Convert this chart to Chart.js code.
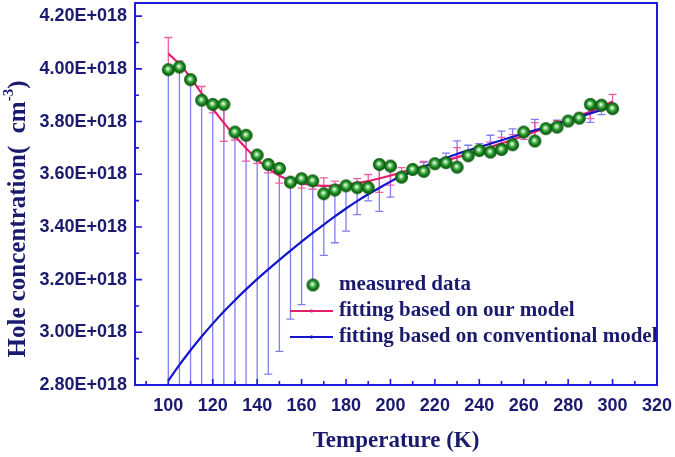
<!DOCTYPE html>
<html>
<head>
<meta charset="utf-8">
<script src="https://cdn.jsdelivr.net/npm/chart.js@4.4.1/dist/chart.umd.min.js"></script>
<style>
  html, body { margin: 0; padding: 0; background: #fff; }
  #holeChart { display: block; }
</style>
</head>
<body>
<canvas id="holeChart" width="675" height="457"></canvas>
<script>
// temperature (K)
const temps = [100, 105, 110, 115, 120, 125, 130, 135, 140, 145, 150, 155, 160, 165, 170, 175, 180, 185, 190, 195,
  200, 205, 210, 215, 220, 225, 230, 235, 240, 245, 250, 255, 260, 265, 270, 275, 280, 285, 290, 295, 300];

// hole concentration, in units of 1E+018 cm^-3
const measured = [3.997, 4.007, 3.959, 3.881, 3.865, 3.865, 3.760, 3.748, 3.673, 3.637, 3.622, 3.570, 3.583, 3.575,
  3.526, 3.540, 3.556, 3.549, 3.549, 3.637, 3.631, 3.589, 3.618, 3.611, 3.640, 3.644, 3.627, 3.670, 3.690, 3.684,
  3.694, 3.712, 3.760, 3.726, 3.773, 3.779, 3.802, 3.813, 3.865, 3.862, 3.849];

const fitOurModel = [4.058, 4.018, 3.967, 3.907, 3.849, 3.795, 3.745, 3.699, 3.657, 3.621, 3.594, 3.576, 3.565, 3.559,
  3.556, 3.557, 3.560, 3.566, 3.574, 3.584, 3.595, 3.607, 3.619, 3.630, 3.641, 3.652, 3.664, 3.677, 3.690, 3.703,
  3.717, 3.731, 3.746, 3.761, 3.776, 3.791, 3.806, 3.822, 3.838, 3.857, 3.876];

const fitConventional = [2.816, 2.876, 2.932, 2.984, 3.033, 3.079, 3.122, 3.163, 3.202, 3.239, 3.275, 3.310, 3.344,
  3.377, 3.409, 3.440, 3.470, 3.498, 3.524, 3.548, 3.572, 3.593, 3.611, 3.628, 3.646, 3.662, 3.677, 3.690, 3.703,
  3.716, 3.729, 3.742, 3.755, 3.767, 3.779, 3.792, 3.805, 3.818, 3.831, 3.844, 3.857];

const xTicks = [100, 120, 140, 160, 180, 200, 220, 240, 260, 280, 300, 320];
const yTicks = [2.8, 3.0, 3.2, 3.4, 3.6, 3.8, 4.0, 4.2];

const seriesNames = ['measured data', 'fitting based on our model', 'fitting based on conventional model'];

const AXIS_BLUE = '#1c1cdc';
const NAVY = '#1b1b6e';
const PINK = '#e3206c';
const BLUE = '#1414cc';

// green ball marker
function makeBall(r) {
  const s = r * 2 + 2;
  const c = document.createElement('canvas');
  c.width = s; c.height = s;
  const g = c.getContext('2d');
  const cx = s / 2, cy = s / 2;
  const grad = g.createRadialGradient(cx - r * 0.1, cy - r * 0.15, r * 0.05, cx, cy, r);
  grad.addColorStop(0, '#ffffff');
  grad.addColorStop(0.25, '#7fcf7f');
  grad.addColorStop(0.55, '#1f8f24');
  grad.addColorStop(1, '#064a0a');
  g.fillStyle = grad;
  g.beginPath();
  g.arc(cx, cy, r, 0, Math.PI * 2);
  g.fill();
  return c;
}
const ball = makeBall(6.5);

const pts = (arr) => temps.map((t, i) => ({ x: t, y: arr[i] }));

function drawErrorBars(ctx, xs, ys, fit, color) {
  ctx.strokeStyle = color;
  ctx.lineWidth = 1.3;
  temps.forEach((t, i) => {
    const d = Math.abs(measured[i] - fit[i]);
    const px = xs.getPixelForValue(t);
    const y1 = ys.getPixelForValue(fit[i] - d);
    const y2 = ys.getPixelForValue(fit[i] + d);
    ctx.beginPath();
    ctx.moveTo(px, y1); ctx.lineTo(px, y2);
    ctx.moveTo(px - 4, y1); ctx.lineTo(px + 4, y1);
    ctx.moveTo(px - 4, y2); ctx.lineTo(px + 4, y2);
    ctx.stroke();
  });
}

const extras = {
  id: 'extras',
  beforeDatasetsDraw(chart) {
    const { ctx, chartArea: a, scales } = chart;
    ctx.save();
    ctx.beginPath();
    ctx.rect(a.left, a.top, a.right - a.left, a.bottom - a.top);
    ctx.clip();
    drawErrorBars(ctx, scales.x, scales.y, fitConventional, 'rgba(105,105,235,0.85)');
    drawErrorBars(ctx, scales.x, scales.y, fitOurModel, 'rgba(238,85,160,0.95)');
    ctx.restore();
  },
  afterDraw(chart) {
    const { ctx, chartArea: a, scales } = chart;
    ctx.save();
    // frame
    ctx.strokeStyle = AXIS_BLUE;
    ctx.lineWidth = 2;
    ctx.strokeRect(a.left, a.top, a.right - a.left, a.bottom - a.top);
    // inward ticks
    ctx.lineWidth = 1.6;
    ctx.beginPath();
    for (let v = 90; v <= 320; v += 10) {
      const px = scales.x.getPixelForValue(v);
      const len = v % 20 === 0 ? 6 : 4;
      ctx.moveTo(px, a.bottom); ctx.lineTo(px, a.bottom - len);
    }
    for (let k = 28; k <= 42; k++) {
      const py = scales.y.getPixelForValue(k / 10);
      const len = k % 2 === 0 ? 7 : 4;
      ctx.moveTo(a.left, py); ctx.lineTo(a.left + len, py);
    }
    ctx.stroke();

    // axis titles
    ctx.fillStyle = NAVY;
    ctx.textBaseline = 'middle';
    ctx.textAlign = 'center';
    ctx.font = 'bold 23px "Liberation Serif", "Times New Roman", serif';
    ctx.fillText('Temperature (K)', (a.left + a.right) / 2, 441);

    ctx.translate(19, 219);
    ctx.rotate(-Math.PI / 2);
    const main = 'Hole concentration(  cm';
    const big = 'bold 25px "Liberation Serif", "Times New Roman", serif';
    const small = 'bold 15px "Liberation Serif", "Times New Roman", serif';
    ctx.font = big; const w1 = ctx.measureText(main).width; const w3 = ctx.measureText(')').width;
    ctx.font = small; const w2 = ctx.measureText('-3').width;
    let x0 = -(w1 + w2 + w3) / 2;
    ctx.textAlign = 'left';
    ctx.font = big; ctx.fillText(main, x0, 0);
    ctx.font = small; ctx.fillText('-3', x0 + w1, -10);
    ctx.font = big; ctx.fillText(')', x0 + w1 + w2, 0);
    ctx.setTransform(1, 0, 0, 1, 0, 0);

    // legend
    ctx.font = 'bold 21px "Liberation Serif", "Times New Roman", serif';
    ctx.textAlign = 'left';
    ctx.fillStyle = NAVY;
    ctx.drawImage(ball, 313 - ball.width / 2, 285 - ball.height / 2);
    ctx.fillText(seriesNames[0], 339, 285);
    [[PINK, 311, seriesNames[1]], [BLUE, 337, seriesNames[2]]].forEach(([col, y, label]) => {
      ctx.strokeStyle = col;
      ctx.lineWidth = 2;
      ctx.beginPath();
      ctx.moveTo(290, y); ctx.lineTo(333, y);
      ctx.moveTo(311.5, y - 1.5); ctx.lineTo(311.5, y + 1.5);
      ctx.stroke();
      ctx.fillText(label, 339, y);
    });
    ctx.restore();
  }
};

new Chart(document.getElementById('holeChart'), {
  type: 'line',
  data: {
    datasets: [
      {
        label: seriesNames[0],
        data: pts(measured),
        showLine: false,
        pointStyle: ball,
        pointRadius: 6.5,
        order: 0
      },
      {
        label: seriesNames[1],
        data: pts(fitOurModel),
        borderColor: PINK,
        borderWidth: 2.2,
        pointRadius: 0,
        cubicInterpolationMode: 'monotone',
        order: 2
      },
      {
        label: seriesNames[2],
        data: pts(fitConventional),
        borderColor: BLUE,
        borderWidth: 2.2,
        pointRadius: 0,
        cubicInterpolationMode: 'monotone',
        order: 1
      }
    ]
  },
  options: {
    responsive: false,
    animation: false,
    events: [],
    layout: { autoPadding: false, padding: { top: 3, right: 18, left: 0, bottom: 0 } },
    plugins: { legend: { display: false }, tooltip: { enabled: false } },
    scales: {
      x: {
        type: 'linear',
        min: 85,
        max: 320,
        grid: { display: false },
        border: { display: false },
        afterBuildTicks: (s) => { s.ticks = xTicks.map(v => ({ value: v })); },
        afterFit: (s) => {
          s.height = 72;
          s.paddingLeft = 0; s.paddingRight = 0; s.paddingTop = 0; s.paddingBottom = 0;
        },
        ticks: {
          padding: 2,
          maxRotation: 0,
          autoSkip: false,
          color: NAVY,
          font: { family: '"Liberation Sans", Arial, sans-serif', weight: 'bold', size: 18 }
        }
      },
      y: {
        min: 2.8,
        max: 4.25,
        grid: { display: false },
        border: { display: false },
        afterBuildTicks: (s) => { s.ticks = yTicks.map(v => ({ value: v })); },
        afterFit: (s) => {
          s.width = 135;
          s.paddingTop = 0; s.paddingBottom = 0; s.paddingLeft = 0; s.paddingRight = 0;
        },
        ticks: {
          padding: 0,
          color: NAVY,
          callback: (v) => v.toFixed(2) + 'E+018',
          font: { family: '"Liberation Sans", Arial, sans-serif', weight: 'bold', size: 18 }
        }
      }
    }
  },
  plugins: [extras]
});
</script>
</body>
</html>
